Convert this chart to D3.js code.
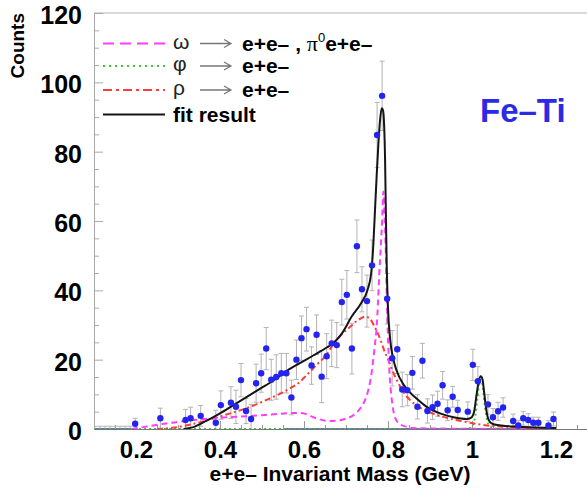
<!DOCTYPE html>
<html><head><meta charset="utf-8">
<script src="https://cdn.jsdelivr.net/npm/d3@7"></script>
<style>
body{margin:0;background:#fff}
svg{display:block}
text{font-family:"Liberation Sans",Arial,Helvetica,sans-serif}
</style>
</head><body>
<svg id="chart" width="587" height="497"></svg>
<script>
// Measured spectrum: bin centres (GeV), counts and uncertainties
const binMass = [0.102,0.114,0.126,0.138,0.150,0.162,0.174,0.186,0.198,0.258,0.318,0.330,0.354,0.390,0.402,0.426,0.438,0.450,0.462,0.474,0.486,0.498,0.510,0.522,0.534,0.546,0.558,0.570,0.582,0.594,0.606,0.618,0.630,0.642,0.654,0.666,0.678,0.690,0.702,0.714,0.726,0.738,0.750,0.762,0.774,0.786,0.798,0.810,0.822,0.834,0.846,0.858,0.870,0.882,0.894,0.906,0.918,0.930,0.942,0.954,0.966,0.990,1.002,1.014,1.038,1.050,1.062,1.074,1.098,1.110,1.122,1.134,1.146,1.158,1.182,1.194];
const binCounts = [0,0,0,0,0,0,0,0,1.5,3.1,2.6,3.1,3.8,1.8,6.9,7.6,6.4,14.1,5.2,2.9,13.2,16.1,23.2,14.2,15.0,16.1,16.1,9.1,20.0,26.2,28.8,18.3,27.2,15.1,21.0,24.7,24.2,36.6,38.7,23.2,52.7,40.3,36.9,47.2,84.8,96.1,37.6,20.4,23.0,11.4,11.2,16.2,6.4,19.7,5.2,6.3,7.3,12.6,5.4,9.3,5.5,5.0,18.5,13.8,7.1,3.4,5.1,6.2,2.3,1.0,3.1,2.6,1.8,1.8,1.0,2.9];
const binErrors = [0.8,0.8,0.8,0.8,0.8,0.8,0.8,0.8,1.6,2.9,3.0,3.2,3.0,3.6,4.1,4.6,4.8,4.8,3.6,4.2,5.5,5.5,6.1,5.9,6.4,5.7,5.7,5.0,5.7,6.4,6.3,5.4,5.7,7.5,6.5,6.7,6.5,6.6,7.0,7.3,7.6,6.5,7.5,7.3,9.4,10.0,7.3,8.0,7.0,5.0,4.5,4.7,3.5,5.0,3.5,3.5,3.6,4.0,3.0,3.0,2.8,2.8,4.5,4.2,2.8,2.5,2.6,2.8,2.0,1.5,2.0,1.8,1.6,1.6,1.4,2.0];

// Fit components, sampled as [mass, counts]
const omegaCurve = [[0.19,0],[0.225,0.7],[0.26,1.4],[0.305,2.1],[0.345,2.7],[0.384,3.1],[0.42,3.4],[0.463,3.7],[0.50,4.0],[0.543,4.4],[0.57,4.6],[0.59,4.6],[0.605,4.3],[0.622,3.4],[0.64,2.7],[0.661,2.3],[0.68,2.4],[0.70,3.0],[0.718,4.0],[0.731,5.5],[0.742,7.5],[0.751,10.3],[0.758,14],[0.763,18],[0.768,23.5],[0.773,29.5],[0.776,36],[0.779,44],[0.783,53],[0.786,60],[0.789,68.5],[0.791,64],[0.793,58],[0.795,50],[0.796,44],[0.799,30],[0.802,20],[0.806,12],[0.810,7.5],[0.814,4.5],[0.82,2.5],[0.83,1.3],[0.845,0.6],[0.86,0.3],[0.9,0.15],[1.0,0.05],[1.2,0]];
const phiCurve = [[0.1,0],[0.98,0],[0.995,0.3],[1.003,1.5],[1.008,4],[1.012,8],[1.016,12],[1.020,14.2],[1.024,13.5],[1.028,9.5],[1.032,5.5],[1.036,2.5],[1.042,0.8],[1.05,0.3],[1.07,0],[1.2,0]];
const rhoCurve = [[0.25,0],[0.29,0.4],[0.33,1.3],[0.384,3.0],[0.424,4.5],[0.463,6.0],[0.511,8.4],[0.559,11.2],[0.59,13.6],[0.606,15.5],[0.63,18.5],[0.654,21.5],[0.67,24.5],[0.69,27.3],[0.71,29.5],[0.73,31.5],[0.746,32.4],[0.757,31.8],[0.768,29.5],[0.778,27],[0.785,24.7],[0.793,22],[0.801,19.9],[0.81,17],[0.821,14.1],[0.835,11],[0.852,8.4],[0.87,6.6],[0.89,5.3],[0.908,4.4],[0.94,3.2],[0.97,2.4],[1.0,1.7],[1.03,1.1],[1.06,0.8],[1.1,0.5],[1.15,0.3],[1.2,0.2]];
const fitCurve = [[0.313,0],[0.34,0.7],[0.368,2.4],[0.40,4.5],[0.432,6.9],[0.463,9.2],[0.495,11.6],[0.527,14.0],[0.559,16.8],[0.59,19.0],[0.622,21.2],[0.654,23.5],[0.67,24.8],[0.69,27.5],[0.714,32.5],[0.737,36.5],[0.751,40],[0.760,45],[0.765,53],[0.769,63],[0.773,73],[0.777,82],[0.781,89],[0.785,92.5],[0.788,92],[0.791,87],[0.793,78],[0.795,62],[0.797,47],[0.800,35],[0.805,26],[0.812,20.5],[0.82,17],[0.837,12.8],[0.845,11.5],[0.868,8.8],[0.892,6.4],[0.924,4.5],[0.956,3.4],[0.987,2.9],[0.998,3.3],[1.005,5],[1.011,10],[1.016,13.8],[1.021,15.2],[1.025,14.3],[1.029,10.5],[1.033,6.4],[1.037,3.6],[1.043,2.0],[1.051,1.4],[1.07,1.0],[1.098,0.7],[1.15,0.4],[1.2,0.3]];
// Zero-level component drawn along the axis
const baselineSpans = [[0.1,0.19],[0.555,1.2]];

// Axis ticks
const xMajorTicks = [0.2,0.4,0.6,0.8,1.0,1.2];
const xTickLabels = ["0.2","0.4","0.6","0.8","1","1.2"];
const yMajorTicks = [0,20,40,60,80,100,120];

const svg = d3.select("#chart");
const plotLeft = 94, plotTop = 13, plotBottom = 429, plotRight = 598;

const x = d3.scaleLinear().domain([0.1, 1.3]).range([plotLeft, plotRight]);
const y = d3.scaleLinear().domain([0, 120]).range([plotBottom, plotTop]);

svg.append("defs").append("clipPath").attr("id","plotClip")
  .append("rect").attr("x",plotLeft).attr("y",plotTop).attr("width",plotRight-plotLeft).attr("height",plotBottom-plotTop);

// frame
svg.append("line").attr("x1",plotLeft).attr("x2",plotRight).attr("y1",plotTop).attr("y2",plotTop)
  .attr("stroke","#b5b5b5").attr("stroke-width",1);

// y axis
const yMinor = d3.range(0,121,5).filter(v => v % 20 !== 0);
svg.append("g").attr("transform",`translate(${plotLeft},0)`)
  .call(d3.axisLeft(y).tickValues(yMinor).tickSize(-5).tickSizeOuter(0).tickFormat(""))
  .call(g => g.select(".domain").remove())
  .call(g => g.selectAll("line").attr("stroke","#aaa"));
const yAxis = svg.append("g").attr("transform",`translate(${plotLeft},0)`)
  .call(d3.axisLeft(y).tickValues(yMajorTicks).tickSize(-9).tickSizeOuter(0).tickPadding(12).tickFormat(d3.format("d")));
yAxis.select(".domain").attr("stroke","#aaa");
yAxis.selectAll("line").attr("stroke","#aaa");
yAxis.selectAll("text").attr("font-size",25).attr("font-weight","bold").attr("fill","#000")
  .attr("dy","0.42em");

// x axis
const xMinor = d3.range(0.15,1.3,0.05).filter(v => Math.abs(v*5 - Math.round(v*5)) > 1e-6);
svg.append("g").attr("transform",`translate(0,${plotBottom})`)
  .call(d3.axisBottom(x).tickValues(xMinor).tickSize(-4).tickSizeOuter(0).tickFormat(""))
  .call(g => g.select(".domain").remove())
  .call(g => g.selectAll("line").attr("stroke","#999"));
const xAxis = svg.append("g").attr("transform",`translate(0,${plotBottom})`)
  .call(d3.axisBottom(x).tickValues(xMajorTicks).tickSize(-8).tickSizeOuter(0).tickPadding(12)
    .tickFormat((d,i) => xTickLabels[i]));
xAxis.select(".domain").attr("stroke","#777");
xAxis.selectAll("line").attr("stroke","#999");
xAxis.selectAll("text").attr("font-size",24).attr("font-weight","bold").attr("fill","#000");

// axis titles
svg.append("text").attr("transform",`translate(24,${plotTop}) rotate(-90)`)
  .attr("text-anchor","end").attr("font-size",19).attr("font-weight","bold").text("Counts");
svg.append("text").attr("x",340).attr("y",481).attr("text-anchor","middle")
  .attr("font-size",21).attr("font-weight","bold").text("e+e– Invariant Mass (GeV)");

const plot = svg.append("g").attr("clip-path","url(#plotClip)");

// zero-level baseline
plot.selectAll("line.base").data(baselineSpans).join("line")
  .attr("x1",d=>x(d[0])).attr("x2",d=>x(d[1])).attr("y1",y(0)).attr("y2",y(0))
  .attr("stroke","#6b6bd6").attr("stroke-width",2);

const line = d3.line().x(d=>x(d[0])).y(d=>y(d[1])).curve(d3.curveMonotoneX);

// error bars
const bins = binMass.map((m,i)=>({m, c:binCounts[i], e:binErrors[i]}));
const eb = plot.append("g").attr("stroke","#b3b3b3").attr("stroke-width",1);
bins.forEach(b => {
  const y0 = y(Math.max(0,b.c-b.e)), y1 = y(b.c+b.e), cx = x(b.m);
  eb.append("line").attr("x1",cx).attr("x2",cx).attr("y1",y0).attr("y2",y1);
  eb.append("line").attr("x1",cx-2.5).attr("x2",cx+2.5).attr("y1",y1).attr("y2",y1);
  if (b.c - b.e > 0) eb.append("line").attr("x1",cx-2.5).attr("x2",cx+2.5).attr("y1",y0).attr("y2",y0);
});

// fit components
plot.append("path").datum(phiCurve).attr("d",line).attr("fill","none")
  .attr("stroke","#3cc43c").attr("stroke-width",2).attr("stroke-dasharray","2,3");
plot.append("path").datum(rhoCurve).attr("d",line).attr("fill","none")
  .attr("stroke","#ff3b3b").attr("stroke-width",2).attr("stroke-dasharray","6,3,2,3");
plot.append("path").datum(omegaCurve).attr("d",line).attr("fill","none")
  .attr("stroke","#ff3dff").attr("stroke-width",2).attr("stroke-dasharray","6,4");
plot.append("path").datum(fitCurve).attr("d",line).attr("fill","none")
  .attr("stroke","#151515").attr("stroke-width",2);

// data points
plot.selectAll("circle.pt").data(bins.filter(b=>b.c>0)).join("circle")
  .attr("cx",d=>x(d.m)).attr("cy",d=>y(d.c)).attr("r",3.2).attr("fill","#2424ee");

// legend
const legendRows = [
  {y:43.5, color:"#ff3dff", dash:"11,6", sym:"ω", extra:true},
  {y:66, color:"#3cc43c", dash:"2,4", sym:"φ"},
  {y:90, color:"#ff3b3b", dash:"9,4,3,4", sym:"ρ"},
  {y:114.5, color:"#151515", dash:null, sym:null}
];
const lg = svg.append("g");
legendRows.forEach(r => {
  lg.append("line").attr("x1",103).attr("x2",165).attr("y1",r.y).attr("y2",r.y)
    .attr("stroke",r.color).attr("stroke-width",2).attr("stroke-dasharray",r.dash);
  if (r.sym) {
    lg.append("text").attr("x",173).attr("y",r.y+5).attr("font-family","'Liberation Serif',serif")
      .attr("font-size",21).attr("fill","#222").text(r.sym);
    lg.append("path").attr("d",`M200,${r.y}L231,${r.y}M224,${r.y-4}L231,${r.y}L224,${r.y+4}`)
      .attr("fill","none").attr("stroke","#777").attr("stroke-width",1.3);
    const t = lg.append("text").attr("x",242).attr("y",r.y+7).attr("font-size",21).attr("font-weight","bold");
    t.append("tspan").text("e+e–");
    if (r.extra) {
      t.append("tspan").text(" , ");
      t.append("tspan").attr("font-family","'Liberation Serif',serif").attr("font-weight","normal").attr("font-size",22).text("π");
      t.append("tspan").attr("font-size",13).attr("font-weight","normal").attr("dy",-9).text("0");
      t.append("tspan").attr("dy",9).text("e+e–");
    }
  } else {
    lg.append("text").attr("x",173).attr("y",r.y+7).attr("font-size",21).attr("font-weight","bold").text("fit result");
  }
});

// target label
svg.append("text").attr("x",480).attr("y",122).attr("font-size",33).attr("font-weight","bold")
  .attr("fill","#2b2be6").text("Fe–Ti");
</script>
</body></html>
